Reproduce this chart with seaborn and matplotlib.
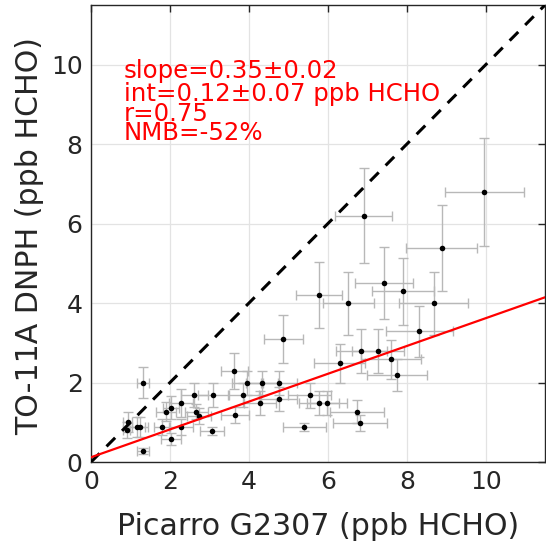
import numpy as np
import pandas as pd
import seaborn as sns
import matplotlib.pyplot as plt

# Picarro vs TO-11A DNPH HCHO (ppb)
picarro = [0.90, 0.93, 1.16, 1.24, 1.32, 1.32, 1.80, 1.90, 2.03, 2.03, 2.28, 2.28,
           2.62, 2.67, 2.74, 3.06, 3.10, 3.63, 3.65, 3.86, 3.96, 4.28, 4.33, 4.76,
           4.76, 4.87, 5.40, 5.54, 5.77, 5.77, 5.98, 6.30, 6.52, 6.74, 6.82, 6.85,
           6.91, 7.27, 7.42, 7.59, 7.75, 7.91, 8.32, 8.68, 8.88, 9.96]
dnph = [0.80, 1.00, 0.88, 0.88, 1.99, 0.28, 0.88, 1.27, 1.37, 0.58, 1.48, 0.88,
        1.69, 1.27, 1.16, 0.78, 1.69, 2.29, 1.18, 1.69, 1.99, 1.48, 1.99, 1.98,
        1.59, 3.09, 0.89, 1.68, 4.20, 1.48, 1.48, 2.48, 3.99, 1.27, 0.98, 2.79,
        6.20, 2.79, 4.50, 2.58, 2.19, 4.30, 3.29, 3.99, 5.39, 6.80]
picarro_err = [0.10, 0.12, 0.20, 0.20, 0.15, 0.15, 0.20, 0.25, 0.20, 0.25, 0.30, 0.30,
               0.35, 0.30, 0.30, 0.30, 0.40, 0.35, 0.35, 0.40, 0.40, 0.40, 0.40, 0.45,
               0.45, 0.50, 0.54, 0.55, 0.58, 0.50, 0.50, 0.64, 0.65, 0.68, 0.68, 0.65,
               0.72, 0.65, 0.73, 0.76, 0.77, 0.78, 0.84, 0.87, 0.89, 1.00]
dnph_err = [0.20, 0.25, 0.25, 0.25, 0.39, 0.07, 0.20, 0.25, 0.30, 0.15, 0.35, 0.20,
            0.30, 0.20, 0.20, 0.10, 0.30, 0.46, 0.20, 0.30, 0.30, 0.30, 0.30, 0.30,
            0.30, 0.60, 0.10, 0.32, 0.84, 0.30, 0.30, 0.50, 0.80, 0.30, 0.20, 0.55,
            1.20, 0.55, 0.90, 0.50, 0.41, 0.84, 0.64, 0.80, 1.08, 1.36]

slope = 0.35
intercept = 0.12
stats_lines = ["slope=0.35\u00b10.02", "int=0.12\u00b10.07 ppb HCHO", "r=0.75", "NMB=-52%"]
stats_y = [9.67, 9.08, 8.57, 8.11]

df = pd.DataFrame({"picarro": picarro, "dnph": dnph})

sns.set_style("white")
plt.rcParams['font.family'] = ['DejaVu Sans']

fig = plt.figure(figsize=(5.46, 5.44), dpi=100)
ax = fig.add_axes([0.1667, 0.1507, 0.8315, 0.8401])

lim = 11.5
ax.grid(True, color='#e3e3e3', lw=0.9)
ax.set_axisbelow(True)

# error bars first, then the dots on top
ax.errorbar(picarro, dnph, xerr=picarro_err, yerr=dnph_err, fmt='none',
            ecolor='#b8b8b8', elinewidth=1.0, capsize=3.5, capthick=1.0, zorder=2)
sns.scatterplot(data=df, x="picarro", y="dnph", color='black', s=16,
                edgecolor='black', linewidth=0, ax=ax, zorder=3)

xx = np.array([0, lim])
ax.plot(xx, xx, color='black', ls=(0, (4, 3.2)), lw=2.2, zorder=4)
ax.plot(xx, intercept + slope * xx, color='red', lw=1.6, zorder=4)

for s, yy in zip(stats_lines, stats_y):
    ax.text(0.83, yy, s, color='red', fontsize=17.6, va='baseline', ha='left')

ax.set_xlim(0, lim)
ax.set_ylim(0, lim)
ax.set_xticks([0, 2, 4, 6, 8, 10])
ax.set_yticks([0, 2, 4, 6, 8, 10])
ax.tick_params(direction='in', length=5, width=1, top=True, right=True,
               labelsize=18, colors='#262626', pad=6)
for sp in ax.spines.values():
    sp.set_color('#262626')
    sp.set_linewidth(1.0)
ax.set_xlabel("Picarro G2307 (ppb HCHO)", fontsize=21.6, color='#262626', va='baseline')
ax.set_ylabel("TO-11A DNPH (ppb HCHO)", fontsize=21.6, color='#262626')
ax.xaxis.set_label_coords(0.5, -0.16)
ax.yaxis.set_label_coords(-0.103, 0.495)

fig.savefig("out.png", dpi=100)
